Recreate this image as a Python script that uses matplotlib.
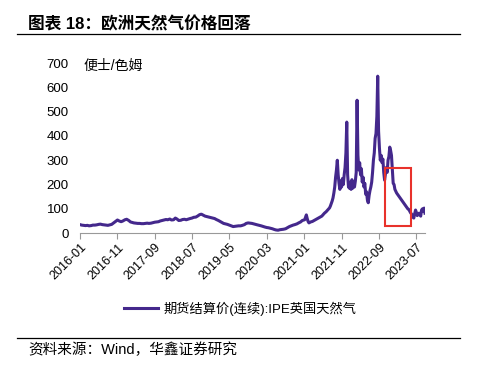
import numpy as np
import pandas as pd
import matplotlib
matplotlib.use('Agg')
import matplotlib.pyplot as plt
import matplotlib.dates as mdates
from matplotlib.patches import Rectangle

plt.rcParams['font.family'] = ['Liberation Sans', 'Noto Sans CJK SC', 'DejaVu Sans']

# semi-monthly values 2016-2020 (pence/therm)
v2016 = [35, 33, 32, 31, 32, 30, 31, 33, 33, 34, 36, 37, 35, 34, 33, 32, 34, 36, 42, 47, 54, 50, 47, 50]
v2017 = [55, 57, 52, 46, 44, 42, 41, 40, 40, 39, 39, 40, 41, 40, 41, 43, 45, 46, 47, 50, 52, 54, 56, 55]
v2018 = [58, 54, 55, 62, 58, 52, 53, 56, 57, 55, 58, 60, 62, 65, 66, 70, 76, 78, 74, 70, 68, 66, 64, 62]
v2019 = [60, 56, 52, 48, 44, 40, 38, 36, 33, 30, 27, 28, 29, 30, 30, 32, 35, 40, 42, 41, 40, 38, 36, 34]
v2020 = [32, 30, 27, 25, 23, 22, 20, 18, 15, 13, 12, 14, 15, 16, 18, 22, 27, 30, 33, 35, 38, 42, 46, 52]

# weekly values 2021-2023
w2021 = [55, 65, 75, 60, 48, 42, 44, 46, 47, 48, 50, 52, 54, 56, 58, 60, 62,
         64, 66, 68, 70, 74, 78, 82, 85, 88, 92, 96, 100, 104, 112, 122, 132, 145,
         165, 190, 230, 260, 300, 240, 205, 180, 215, 190, 225, 200, 240,
         270, 330, 457, 240, 190]
w2022 = [185, 210, 180, 220, 185, 205, 190, 215, 250, 547, 320, 260, 290,
         240, 265, 210, 230, 190, 205, 160, 170, 136, 125, 155, 175, 190,
         210, 250, 300, 330, 390, 410, 480, 646, 420, 350, 300, 320,
         290, 305, 250, 218, 245, 270, 250, 300, 315, 354, 340, 320, 260, 205]
w2023 = [200, 180, 172, 165, 160, 155, 150, 145, 140, 135, 130, 125, 120,
         115, 110, 105, 100, 98, 92, 85, 80, 75, 65, 62, 80, 95,
         85, 72, 78, 82, 75, 70, 95, 100, 90, 103, 82]

tick_labels = ['2016-01', '2016-11', '2017-09', '2018-07', '2019-05',
               '2020-03', '2021-01', '2021-11', '2022-09', '2023-07']

semi = v2016 + v2017 + v2018 + v2019 + v2020
weekly = w2021 + w2022 + w2023
d_semi = pd.date_range('2016-01-01', periods=len(semi), freq='SMS')
d_week = pd.date_range('2021-01-03', periods=len(weekly), freq='W')
dates = list(d_semi) + list(d_week)
values = semi + weekly

fig = plt.figure(figsize=(5, 3.73), dpi=100)
ax = fig.add_axes([0.16, 0.375, 0.69, 0.456])
line, = ax.plot(dates, values, color='#44288c', lw=2.2)

ax.set_ylim(0, 700)
ax.set_yticks(range(0, 701, 100))
ax.set_xlim(pd.Timestamp('2016-01-01'), pd.Timestamp('2023-09-10'))
ticks = pd.to_datetime(tick_labels)
ax.set_xticks(ticks)
ax.set_xticklabels(tick_labels, rotation=45, ha='right', rotation_mode='anchor', fontsize=9)
ax.tick_params(axis='y', length=0, labelsize=9.5, pad=8)
ax.tick_params(axis='x', length=4, color='#999999', direction='out', pad=2)
for s in ['top', 'right', 'left']:
    ax.spines[s].set_visible(False)
ax.spines['bottom'].set_color('#999999')

# red box
x0 = mdates.date2num(pd.Timestamp('2022-10-20'))
x1 = mdates.date2num(pd.Timestamp('2023-05-15'))
ax.add_patch(Rectangle((x0, 29), x1 - x0, 239, fill=False, edgecolor='#e8322b', lw=1.5, zorder=5))

ax.text(0.01, 0.985, '便士/色姆', transform=ax.transAxes, fontsize=10, va='center', ha='left')

# title and rules
fig.text(0.056, 0.935, '图表 18：欧洲天然气价格回落', fontsize=12, fontweight='bold', va='center', ha='left')
fig.add_artist(plt.Line2D([0.034, 0.92], [0.909, 0.909], color='black', lw=0.9))
fig.add_artist(plt.Line2D([0.034, 0.92], [0.094, 0.094], color='black', lw=0.9))
fig.text(0.056, 0.062, '资料来源：Wind，华鑫证券研究', fontsize=10.5, va='center', ha='left')

fig.legend([line], ['期货结算价(连续):IPE英国天然气'], loc='center', bbox_to_anchor=(0.48, 0.172),
           frameon=False, fontsize=9.5, handlelength=2.6, handletextpad=0.4)

fig.savefig('out.png', dpi=100)
